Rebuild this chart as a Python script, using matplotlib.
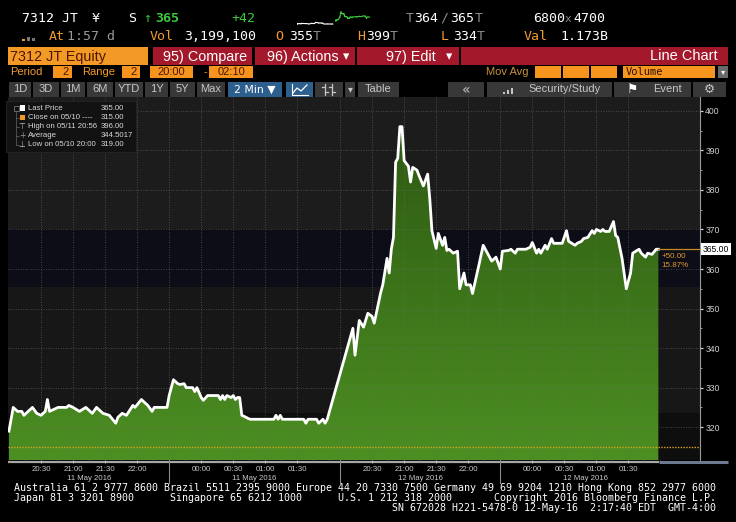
import numpy as np
import matplotlib
matplotlib.use("Agg")
import matplotlib.pyplot as plt
import matplotlib.transforms as mtransforms
from matplotlib.colors import LinearSegmentedColormap
from matplotlib.patches import Rectangle

# 7312 JT Equity, 2 min bars, sessions 20:00-22:30 / 23:30-02:10 EDT
d1_time = ["20:00", "20:04", "20:08", "20:12", "20:14", "20:18", "20:22", "20:26", "20:30", "20:34",
           "20:36", "20:38", "20:46", "20:54", "20:56", "21:00", "21:06", "21:12", "21:18", "21:22",
           "21:28", "21:34", "21:40", "21:42", "21:46", "21:50", "21:56", "21:58", "22:04", "22:10",
           "22:14", "22:16", "22:28", "22:30", "23:34", "23:38", "23:40", "23:44", "23:46", "23:52",
           "23:54", "23:56", "00:00", "00:02", "00:06", "00:16", "00:18", "00:20", "00:22", "00:24",
           "00:28", "00:30", "00:32", "00:34", "00:36", "00:38", "00:42", "00:44", "00:46", "01:08",
           "01:10", "01:12", "01:14", "01:16", "01:36", "01:38", "01:40", "01:48", "01:50", "01:54",
           "01:56", "01:58"]
d1_price = [319, 325, 324, 324, 323, 324, 325, 323.5, 323, 324,
            327, 324, 325, 325, 325.5, 325, 324, 325, 323.5, 325,
            323.5, 323, 321, 322.5, 323.5, 323, 325.5, 325, 327, 325.5,
            324, 325, 325, 328, 332, 331, 330.8, 331, 330, 330,
            329, 330, 327.5, 326.8, 328, 328, 327, 328, 327, 328,
            327.5, 328, 327, 327.5, 327.5, 323, 322.5, 322.2, 322, 322,
            323, 322, 323, 322, 322, 321, 322, 322, 321, 322,
            321, 322]

d2_time = ["20:12", "20:14", "20:18", "20:22", "20:26", "20:30", "20:32", "20:38", "20:40", "20:44",
           "20:46", "20:48", "20:50", "20:52", "20:54", "20:56", "20:58", "21:00", "21:04", "21:06",
           "21:08", "21:12", "21:14", "21:18", "21:22", "21:24", "21:26", "21:30", "21:32", "21:36",
           "21:38", "21:40", "21:42", "21:46", "21:50", "21:52", "21:56", "21:58", "22:02", "22:04",
           "22:10", "22:14", "22:18", "22:22", "22:24", "22:26", "22:30", "23:32", "23:38", "23:40",
           "23:44", "23:46", "23:54", "23:58", "00:00", "00:04", "00:06", "00:08", "00:12", "00:14",
           "00:18", "00:20", "00:28", "00:32", "00:34", "00:40", "00:42", "00:46", "00:48", "00:52",
           "00:56", "00:58", "01:00", "01:04", "01:06", "01:08", "01:12", "01:16", "01:18", "01:20",
           "01:24", "01:28", "01:32", "01:34", "01:38", "01:40", "01:42", "01:46", "01:48", "01:52",
           "01:56", "01:58"]
d2_price = [345, 338.2, 347, 345.3, 348.8, 348, 346.3, 354, 356, 362.7,
            359, 365, 368, 387, 388, 396, 396, 387.4, 386, 382,
            385.7, 385, 383.6, 381, 384, 377.8, 369.7, 365.2, 369, 366,
            368, 364.7, 365, 364, 364.5, 355, 359, 356, 356, 353.8,
            361, 366, 364, 362, 362.5, 363, 360, 364.5, 364.7, 365,
            364, 365, 365, 365.5, 366.7, 364, 365, 364, 366, 365,
            367.7, 366.5, 366.5, 369.7, 367, 366, 366.5, 367, 367.7, 368,
            369.7, 369, 370, 369.5, 370, 369.5, 369.5, 372, 368.5, 368,
            362.7, 355, 359, 364, 364.7, 365, 364, 363, 364, 363.7,
            365, 365]

prev_close = 315.0
avg_txt = "344.5017"
tick_times = ["20:30", "21:00", "21:30", "22:00", "00:00", "00:30", "01:00", "01:30"]
day_labels = ["11 May 2016", "12 May 2016"]


def trade_idx(hhmm, day):
    h, m = map(int, hhmm.split(":"))
    t = h * 60 + m
    if h >= 20 and t <= 22 * 60 + 30:
        i = t - 20 * 60
    elif h >= 23:
        i = 150 + t - (23 * 60 + 30)
    else:
        i = 180 + t
    return i + 310 * day


x = np.array([trade_idx(t, 0) for t in d1_time] + [trade_idx(t, 1) for t in d2_time], float)
y = np.array(d1_price + d2_price, float)
last = y[-1]
chg = last - prev_close

W, H = 736, 522
fig = plt.figure(figsize=(W / 100, H / 100), dpi=100, facecolor="black")


def rect(x0, y0, x1, y1):
    return [x0 / W, 1 - y1 / H, (x1 - x0) / W, (y1 - y0) / H]


# pixel overlay for the terminal chrome
hdr = fig.add_axes([0, 0, 1, 1], zorder=0)
hdr.set_xlim(0, W)
hdr.set_ylim(H, 0)
hdr.axis("off")

ORG = "#f29b2c"
RED = "#a3182b"
GRN = "#3cc83c"
GRY = "#8c8c8c"
MONO = "DejaVu Sans Mono"
SANS = "Liberation Sans"


def box(x0, y0, x1, y1, c, a=hdr):
    a.add_patch(Rectangle((x0, y0), x1 - x0, y1 - y0, color=c, lw=0))


def txt(x0, y0, s, a=hdr, **kw):
    kw.setdefault("va", "center")
    a.text(x0, y0, s, **kw)


# row 1
r1 = dict(family=MONO, size=9.5)
txt(22, 18, "7312 JT", color="w", **r1)
txt(92, 18, "¥", color="w", **r1)
txt(128, 18, "S", color="w", **r1)
txt(143, 18, "↑", color=GRN, **r1)
txt(155, 18, "365", color=GRN, weight="bold", **r1)
txt(231, 18, "+42", color=GRN, **r1)
txt(406, 18, "T", color=GRY, **r1)
txt(414, 18, "364", color="w", **r1)
txt(440, 18, "/", color=GRY, **r1)
txt(450, 18, "365", color="w", **r1)
txt(475, 18, "T", color=GRY, **r1)
txt(533, 18, "6800", color="w", **r1)
txt(565, 19, "x", color=GRY, family=MONO, size=8)
txt(573, 18, "4700", color="w", **r1)

# row 2
box(22, 39, 25, 41, ORG)
box(27, 37, 30, 41, "#777777")
box(32, 38, 35, 41, "#777777")
txt(49, 37, "At", color=ORG, **r1)
txt(67, 37, "1:57 d", color="#9a9a9a", **r1)
txt(150, 37, "Vol", color=ORG, **r1)
txt(184, 37, "3,199,100", color="w", **r1)
txt(275, 37, "O", color=ORG, **r1)
txt(289, 37, "355", color="w", **r1)
txt(313, 37, "T", color=GRY, **r1)
txt(357, 37, "H", color=ORG, **r1)
txt(366, 37, "399", color="w", **r1)
txt(390, 37, "T", color=GRY, **r1)
txt(441, 37, "L", color=ORG, **r1)
txt(453, 37, "334", color="w", **r1)
txt(477, 37, "T", color=GRY, **r1)
txt(524, 37, "Val", color=ORG, **r1)
txt(560, 37, "1.173B", color="w", **r1)

# sparkline
sp = fig.add_axes(rect(297, 10, 370, 26), zorder=1)
sp.axis("off")
n1 = len(d1_time)
sp.plot(x[:n1], y[:n1], color="w", lw=0.8)
sp.plot(x[n1:], y[n1:], color=GRN, lw=0.8)
sp.set_xlim(0, 608)
sp.set_ylim(310, 406)

# row 3
r3 = dict(family=SANS, size=10.4)
box(8, 47, 148, 65, "#f39a26")
txt(10, 56.5, "7312 JT Equity", color="#4d1400", **r3)
box(153, 47, 252, 65, RED)
txt(163, 56.5, "95) Compare", color="w", **r3)
box(255, 47, 355, 65, RED)
txt(267, 56.5, "96) Actions", color="w", **r3)
txt(343, 56.5, "▾", color="w", family="DejaVu Sans", size=9)
box(357, 47, 459, 65, RED)
txt(386, 56.5, "97) Edit", color="w", **r3)
txt(446, 56.5, "▾", color="w", family="DejaVu Sans", size=9)
box(461, 47, 728, 65, RED)
txt(718, 56.5, "Line Chart", color="w", ha="right", family=SANS, size=10.5)

# row 4
r4 = dict(family=SANS, size=8)
DK = "#4a1500"
txt(10, 72, "Period", color=ORG, **r4)
box(53, 66, 72, 78, "#f7941d")
txt(69, 72, "2", color=DK, ha="right", **r4)
txt(82, 72, "Range", color=ORG, **r4)
box(122, 66, 140, 78, "#f7941d")
txt(137, 72, "2", color=DK, ha="right", **r4)
box(150, 66, 193, 78, "#f7941d")
txt(171.5, 72, "20:00", color=DK, ha="center", **r4)
txt(203, 72, "-", color=ORG, **r4)
box(209, 66, 253, 78, "#f7941d")
txt(231, 72, "02:10", color=DK, ha="center", **r4)
txt(486, 72, "Mov Avg", color="#c8903a", **r4)
for a0, a1 in [(535, 561), (563, 589), (591, 617)]:
    box(a0, 66, a1, 78, "#f7941d")
box(623, 66, 715, 78, "#f7941d")
txt(626, 72, "Volume", color="#2a1000", family=MONO, size=7.5)
box(718, 66, 728, 78, "#6a6a6a")
txt(723, 72, "▾", color="w", ha="center", family="DejaVu Sans", size=6)

# row 5 buttons
BTN = "#383838"
BLU = "#2d5f8e"
r5 = dict(family=SANS, size=8, color="#c6c6c6", ha="center")
for a0, a1, lab in [(9, 31, "1D"), (33, 59, "3D"), (61, 85, "1M"), (87, 113, "6M"),
                    (115, 143, "YTD"), (145, 168, "1Y"), (170, 195, "5Y"), (197, 225, "Max"),
                    (358, 399, "Table")]:
    box(a0, 82, a1, 97, BTN)
    txt((a0 + a1) / 2, 89.5, lab, **r5)
box(228, 82, 282, 97, BLU)
txt(255, 89.5, "2 Min ▼", color="w", ha="center", family="DejaVu Sans", size=7.8)
box(286, 82, 313, 97, BLU)
hdr.plot([292, 292, 308], [84, 95, 95], color="w", lw=0.8)
hdr.plot([293, 297, 301, 307], [93, 88, 91, 85], color="w", lw=0.9)
box(315, 82, 343, 97, BTN)
for cx in (325, 332):
    hdr.plot([cx, cx], [84, 95], color="#c6c6c6", lw=0.9)
    hdr.plot([cx - 3, cx], [87, 87], color="#c6c6c6", lw=0.9)
    hdr.plot([cx, cx + 3], [92, 92], color="#c6c6c6", lw=0.9)
box(345, 82, 355, 97, BTN)
txt(350, 89.5, "▾", color="#c6c6c6", ha="center", family="DejaVu Sans", size=7)
box(448, 82, 484, 97, BTN)
txt(466, 89.5, "«", color="#c6c6c6", ha="center", family="DejaVu Sans", size=10)
box(487, 82, 612, 97, BTN)
for k, hgt in enumerate([2, 4, 6]):
    box(503 + 4 * k, 94 - hgt, 505 + 4 * k, 94, "#c6c6c6")
txt(565, 89.5, "Security/Study", **r5)
box(614, 82, 691, 97, BTN)
txt(633, 89.5, "⚑", color="w", ha="center", family="DejaVu Sans", size=9)
txt(667, 89.5, "Event", **r5)
box(693, 82, 726, 97, BTN)
txt(709, 89.5, "⚙", color="#c6c6c6", ha="center", family="DejaVu Sans", size=9)

# x axis strip line
hdr.plot([8, 659], [462, 462], color="#a8a8a8", lw=1.6, solid_capstyle="butt")
hdr.plot([659, 728], [462, 462], color="#6d7891", lw=2.2, solid_capstyle="butt")

# footer
ft = dict(family=MONO, size=7.2, color="w")
txt(14, 488, "Australia 61 2 9777 8600 Brazil 5511 2395 9000 Europe 44 20 7330 7500 "
             "Germany 49 69 9204 1210 Hong Kong 852 2977 6000", **ft)
txt(14, 498, "Japan 81 3 3201 8900      Singapore 65 6212 1000      U.S. 1 212 318 2000       "
             "Copyright 2016 Bloomberg Finance L.P.", **ft)
txt(716, 508, "SN 672028 H221-5478-0 12-May-16  2:17:40 EDT  GMT-4:00", ha="right", **ft)

# main chart
xmin, xmax = -0.9, 647
ymin, ymax = 311.7, 403.5
ax = fig.add_axes(rect(8, 97, 700, 460), zorder=2)
ax.axhspan(370, 410, color="#1c1c1c", lw=0, zorder=0)
ax.axhspan(355.5, 370, color="#0c0d17", lw=0, zorder=0)
ax.axhspan(323.5, 355.5, color="#171717", lw=0, zorder=0)
ax.axhspan(300, 323.5, color="#0e0e0e", lw=0, zorder=0)

fb = ax.fill_between(x, y, ymin, color="none", lw=0)
grad = np.linspace(0, 1, 256).reshape(-1, 1)
cmap = LinearSegmentedColormap.from_list("g", ["#4c8f22", "#2b5511"])
im = ax.imshow(grad, extent=[xmin, xmax, ymin, ymax], origin="lower", aspect="auto",
               cmap=cmap, zorder=2, interpolation="bilinear")
im.set_clip_path(fb.get_paths()[0], transform=ax.transData)

major = [trade_idx(t, d) for d in (0, 1) for t in tick_times]
seps = [150, 310, 460]
for v in range(320, 401, 10):
    ax.axhline(v, color="#6a6a6a", lw=0.6, ls=(0, (1, 2)), zorder=3, alpha=0.8)
for xv in major + seps:
    ax.axvline(xv, color="#6a6a6a", lw=0.6, ls=(0, (1, 2)), zorder=3, alpha=0.8)

ax.plot(x, y, color="white", lw=2.0, zorder=4, solid_joinstyle="round")
ax.axhline(prev_close, color="#d9a521", lw=1.0, ls=(0, (1, 1)), zorder=5)
ax.plot([x[-1], xmax], [last, last], color="#c58a22", lw=0.9, zorder=5)
ax.text(x[-1] + 3, last - 1.8, f"+{chg:.2f}", color="#e09a30", size=5.8, family=SANS,
        va="center", zorder=6)
ax.text(x[-1] + 3, last - 4.1, f"{chg / prev_close * 100:.2f}%", color="#e09a30", size=5.8,
        family=SANS, va="center", zorder=6)
bt = mtransforms.blended_transform_factory(ax.transAxes, ax.transData)
ax.text(1.004, last, f"{last:.2f}", transform=bt, color="black", size=6.2, family=SANS,
        va="center", ha="left", zorder=6, clip_on=False,
        bbox=dict(boxstyle="square,pad=0.2", fc="white", ec="none"))

ax.set_xlim(xmin, xmax)
ax.set_ylim(ymin, ymax)
for s in ("left", "top", "bottom"):
    ax.spines[s].set_visible(False)
ax.spines["right"].set_color("#9a9a9a")
ax.spines["right"].set_linewidth(0.8)

ax.yaxis.tick_right()
ax.set_yticks(range(320, 401, 10))
ax.set_yticks(range(325, 400, 10), minor=True)
ax.tick_params(axis="y", which="major", length=2.4, width=0.9, pad=1.4, colors="#d0d0d0",
               labelsize=6.2)
ax.tick_params(axis="y", which="minor", length=1.6, width=0.7, colors="#9a9a9a")
for lab in ax.get_yticklabels():
    lab.set_family(SANS)

ax.set_xticks(major)
ax.set_xticklabels(tick_times * 2)
ax.set_xticks(list(range(0, 151, 15)) + list(range(150, 311, 15)) +
              list(range(310, 461, 15)) + list(range(460, 621, 15)), minor=True)
ax.tick_params(axis="x", which="major", length=2, width=0.6, pad=2.4, colors="#c8c8c8",
               labelsize=5.7)
ax.tick_params(axis="x", which="minor", length=1.3, width=0.5, colors="#8a8a8a")
for lab in ax.get_xticklabels():
    lab.set_family(SANS)

bx = mtransforms.blended_transform_factory(ax.transData, ax.transAxes)
for d, lab in enumerate(day_labels):
    for c in (75, 230):
        ax.text(c + 310 * d, -0.051, lab, transform=bx, ha="center", va="center",
                color="#c8c8c8", size=5.6, family=SANS, clip_on=False)
for sx in seps:
    ax.plot([sx, sx], [0, -0.068 if sx == 310 else -0.062], transform=bx, color="#8a8a8a",
            lw=0.8, clip_on=False)

# legend box on top
top = fig.add_axes([0, 0, 1, 1], zorder=5)
top.set_xlim(0, W)
top.set_ylim(H, 0)
top.axis("off")
top.add_patch(Rectangle((6, 101), 130, 51, fc="#121212", ec="#262626", lw=0.6))
rows = [108, 117.5, 126.5, 135.5, 144.5]
top.add_patch(Rectangle((13.5, 105.5), 5, 5, fc="none", ec="#888888", lw=0.5))
top.plot([16, 16], [110.5, 144.5], color="#666666", lw=0.5)
for ry in rows[1:]:
    top.plot([16, 19], [ry, ry], color="#666666", lw=0.5)
top.add_patch(Rectangle((19.5, 105), 5.5, 5.5, color="white", lw=0))
top.add_patch(Rectangle((19.5, 114.5), 5.5, 5.5, color="#f39a26", lw=0))
lg = dict(family=SANS, size=5.6, color="#d8d8d8")
txt(22, rows[2], "⊤", a=top, ha="center", family="DejaVu Sans", size=5.5, color="#cccccc")
txt(22, rows[3], "+", a=top, ha="center", family="DejaVu Sans", size=5.5, color="#999999")
txt(22, rows[4], "⊥", a=top, ha="center", family="DejaVu Sans", size=5.5, color="#cccccc")
labels = ["Last Price", "Close on 05/10 ----", "High on 05/11 20:56", "Average",
          "Low on 05/10 20:00"]
values = [f"{last:.2f}", f"{prev_close:.2f}", f"{y.max():.2f}", avg_txt, f"{y.min():.2f}"]
for ry, lab, val in zip(rows, labels, values):
    txt(28, ry, lab, a=top, **lg)
    txt(101, ry, val, a=top, **lg)

fig.savefig("out.png", dpi=100, facecolor="black")
